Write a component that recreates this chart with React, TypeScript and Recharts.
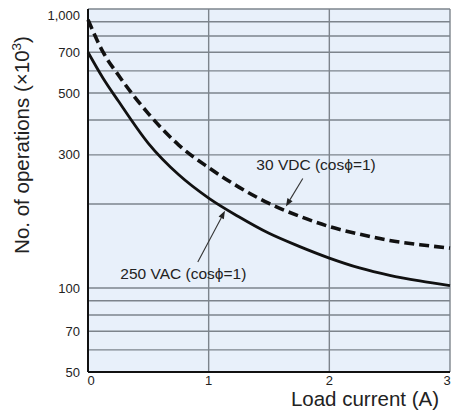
import React from "react";
import {
  LineChart, Line, XAxis, YAxis, CartesianGrid, ReferenceLine, ReferenceDot,
} from "recharts";

// load current (A) and operations (x10^3)
const current = [0, 0.125, 0.25, 0.5, 0.75, 1, 1.25, 1.5, 1.75, 2, 2.25, 2.5, 2.75, 3];
const vac250 = [700, 565, 469, 330, 255, 210, 180, 157, 141, 128, 118, 111, 106, 102];
const vdc30 = [915, 700, 581, 422, 326, 270, 230, 201, 181, 166, 156, 148, 143, 139];

const xTicks = [0, 1, 2, 3];
const yTicks = [50, 60, 70, 80, 90, 100, 200, 300, 400, 500, 600, 700, 800, 900, 1000];
const yLabels: Record<number, string> = { 50: "50", 70: "70", 100: "100", 300: "300", 500: "500", 700: "700", 1000: "1,000" };

const data = current.map((x, i) => ({ x, vac: vac250[i], vdc: vdc30[i] }));

const FONT = "'Liberation Sans', Arial, sans-serif";
const INK = "#222";

const YTick = ({ x, y, payload }: any) => {
  const label = yLabels[payload.value];
  if (!label) return null;
  const dy = payload.value === 1000 ? 6 : 0;
  return (
    <text x={x} y={y + dy} dy="0.35em" textAnchor="end" fontSize={13} fill={INK} fontFamily={FONT}>
      {label}
    </text>
  );
};

const XTick = ({ x, y, payload }: any) => {
  const shift = payload.value === 0 ? 3 : payload.value === 3 ? -3 : 0;
  return (
    <text x={x + shift} y={y + 11} textAnchor="middle" fontSize={13} fill={INK} fontFamily={FONT}>
      {payload.value}
    </text>
  );
};

const Arrow = ({ x1, y1, x2, y2 }: any) => {
  const a = Math.atan2(y2 - y1, x2 - x1);
  const len = 8, w = 3;
  const bx = x2 - len * Math.cos(a), by = y2 - len * Math.sin(a);
  const px = -Math.sin(a) * w, py = Math.cos(a) * w;
  return (
    <g>
      <line x1={x1} y1={y1} x2={bx} y2={by} stroke="#333" strokeWidth={1.1} />
      <polygon points={`${x2},${y2} ${bx + px},${by + py} ${bx - px},${by - py}`} fill="#222" />
    </g>
  );
};

const note = (text: string) => ({ cx, cy }: any) => (
  <text x={cx} y={cy} dy="0.35em" textAnchor="middle" fontSize={15.5} fill={INK} fontFamily={FONT}>
    {text}
  </text>
);

export default function App() {
  return (
    <div style={{ position: "absolute", left: 0, top: 0, width: 451, height: 416, background: "#fff" }}>
      <LineChart width={451} height={416} data={data} margin={{ top: 9, right: 1, bottom: 0, left: 0 }}>
        <CartesianGrid fill="#e8f0fa" stroke="#7d848c" strokeWidth={1.4} horizontalValues={yTicks} verticalValues={xTicks} />
        <XAxis
          dataKey="x" type="number" domain={[0, 3]} ticks={xTicks} height={44}
          axisLine={{ stroke: "#111", strokeWidth: 2 }} tickLine={false} tickSize={0}
          tick={<XTick />} interval={0}
          label={{
            content: () => (
              <text x={439} y={406} textAnchor="end" fontSize={20.5} fill={INK} fontFamily={FONT}>Load current (A)</text>
            ),
          }}
        />
        <YAxis
          scale="log" domain={[50, 1000]} ticks={yTicks} allowDataOverflow width={88} interval={0}
          axisLine={{ stroke: "#111", strokeWidth: 2 }} tickLine={false} tickSize={6}
          tick={<YTick />}
          label={{
            content: () => (
              <text transform="translate(29,145) rotate(-90)" textAnchor="middle" fontSize={20.5} fill={INK} fontFamily={FONT}>
                <tspan>No. of operations (×10</tspan>
                <tspan dy={-8} fontSize={13.5}>3</tspan>
                <tspan dy={8}>)</tspan>
              </text>
            ),
          }}
        />
        <Line type="monotone" dataKey="vdc" stroke="#111" strokeWidth={3.6} strokeDasharray="10 5" dot={false} isAnimationActive={false} />
        <Line type="monotone" dataKey="vac" stroke="#111" strokeWidth={2.8} dot={false} isAnimationActive={false} />
        <ReferenceLine segment={[{ x: 1.78, y: 247 }, { x: 1.64, y: 196 }]} shape={<Arrow />} />
        <ReferenceLine segment={[{ x: 0.91, y: 124 }, { x: 1.135, y: 189 }]} shape={<Arrow />} />
        <ReferenceDot x={1.89} y={277} r={0} shape={note("30 VDC (cosϕ=1)")} />
        <ReferenceDot x={0.79} y={113} r={0} shape={note("250 VAC (cosϕ=1)")} />
      </LineChart>
    </div>
  );
}
